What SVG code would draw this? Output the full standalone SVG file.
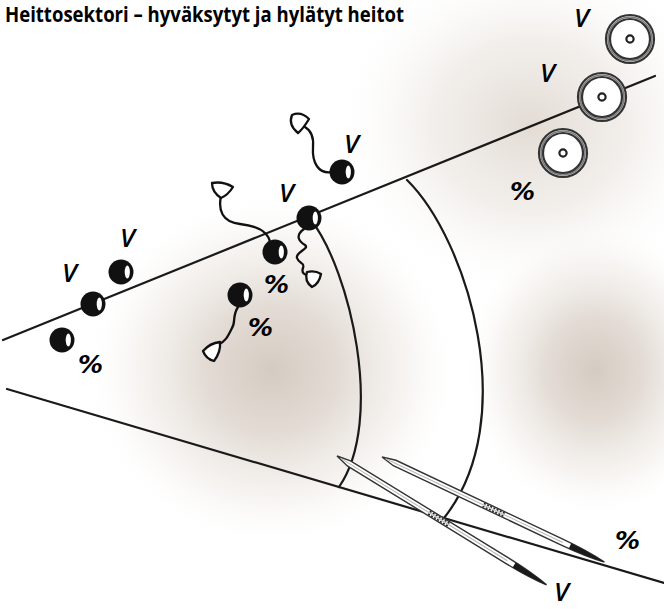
<svg xmlns="http://www.w3.org/2000/svg" width="664" height="609" viewBox="0 0 664 609">
  <defs>
    <radialGradient id="haze" cx="0.5" cy="0.5" r="0.5">
      <stop offset="0" stop-color="#d0c5ba" stop-opacity="0.9"/>
      <stop offset="0.35" stop-color="#d9cfc6" stop-opacity="0.75"/>
      <stop offset="0.7" stop-color="#ebe5df" stop-opacity="0.45"/>
      <stop offset="1" stop-color="#ffffff" stop-opacity="0"/>
    </radialGradient>
    <radialGradient id="hazeLight" cx="0.5" cy="0.5" r="0.5">
      <stop offset="0" stop-color="#dcd3ca" stop-opacity="0.8"/>
      <stop offset="0.5" stop-color="#e8e2dc" stop-opacity="0.55"/>
      <stop offset="1" stop-color="#ffffff" stop-opacity="0"/>
    </radialGradient>
    <!-- shot ball with highlight -->
    <g id="ball">
      <circle r="12.5" fill="#111"/>
      <ellipse cx="6.3" cy="0" rx="2.6" ry="6.5" fill="#fff"/>
    </g>
    <!-- discus seen from above -->
    <g id="discus">
      <circle r="24" fill="#fff" stroke="#333" stroke-width="2.2"/>
      <circle r="22" fill="none" stroke="#7a7a7a" stroke-width="1.6"/>
      <circle r="20" fill="none" stroke="#333" stroke-width="2.2"/>
      <circle r="3.6" fill="#fff" stroke="#222" stroke-width="2.2"/>
    </g>
    <!-- javelin drawn along +x -->
    <g id="javelin-body">
      <path d="M0,0 L14,-3 L198,-3 C218,-3 236,-1.6 246,0 C236,1.6 218,3 198,3 L14,3 Z" fill="#fff" stroke="#333" stroke-width="1.4"/>
      <path d="M4,0 L200,0" stroke="#b5b5b5" stroke-width="1"/>
      <path d="M208,-2.9 C224,-2.6 238,-1.3 246,0 C238,1.3 224,2.6 208,2.9 Z" fill="#1a1a1a"/>
    </g>
  </defs>
  <style>
    .line { fill: none; stroke: #1a1a1a; stroke-width: 2.2; stroke-linecap: round; }
    .wire { fill: none; stroke: #111; stroke-width: 2.3; stroke-linecap: round; }
    .grip { fill: #fff; stroke: #111; stroke-width: 2.3; stroke-linejoin: round; }
    .ok { font-family: "Open Sans", "Liberation Sans", sans-serif; font-style: italic; font-weight: 600; font-size: 26px; fill: #000; }
    .no { font-family: "DejaVu Sans", "Liberation Sans", sans-serif; font-style: oblique; font-weight: bold; font-size: 25px; fill: #000; }
    .title { font-family: "Open Sans", "Liberation Sans", sans-serif; font-weight: 700; font-size: 21px; fill: #000; }
  </style>

  <rect width="664" height="609" fill="#fff"/>

  <!-- ground shading -->
  <g id="shading">
    <ellipse cx="530" cy="125" rx="200" ry="175" fill="url(#hazeLight)"/>
    <ellipse cx="272" cy="370" rx="190" ry="180" fill="url(#haze)"/>
    <ellipse cx="595" cy="370" rx="135" ry="150" fill="url(#haze)"/>
  </g>

  <!-- sector lines and arcs -->
  <g id="connectors">
    <line class="line" x1="3" y1="340" x2="655" y2="76"/>
    <line class="line" x1="7" y1="389" x2="664" y2="583"/>
    <path class="line" d="M311,220 C350,270 385,420 339,487"/>
    <path class="line" d="M407,180 C468,240 522,420 444,518"/>
  </g>

  <!-- javelins -->
  <g id="javelin-ok" transform="translate(337,456) rotate(31.6)">
    <use href="#javelin-body"/>
    <path d="M108,-1.6 H132 M108,1.6 H132" stroke="#222" stroke-width="1.5" stroke-dasharray="2 1.5"/>
  </g>
  <g id="javelin-no" transform="translate(382,457) rotate(25.3)">
    <use href="#javelin-body"/>
    <path d="M112,-1.6 H136 M112,1.6 H136" stroke="#222" stroke-width="1.5" stroke-dasharray="2 1.5"/>
  </g>

  <!-- discus throws -->
  <g id="discus-1"><use href="#discus" x="630" y="39"/></g>
  <g id="discus-2"><use href="#discus" x="602" y="97"/></g>
  <g id="discus-3"><use href="#discus" x="563" y="153"/></g>

  <!-- hammer throws -->
  <g id="hammer-1">
    <path class="wire" d="M333,172 C318,175 312,162 313,147 C314,136 310,130 305,127"/>
    <path class="grip" d="M292,115 Q301,111 309,119 Q303,129 298,133 Q288,125 292,115 Z"/>
    <use href="#ball" x="342" y="172"/>
  </g>
  <g id="hammer-2">
    <path class="wire" d="M221,196 C218,210 222,222 240,224 C258,226 268,232 270,242"/>
    <path class="grip" d="M212,183 Q223,181 233,187 Q228,195 221,198 Q212,192 212,183 Z"/>
    <use href="#ball" x="275" y="252"/>
  </g>
  <g id="hammer-3">
    <path class="wire" d="M304,229 C294,236 300,242 305,245 C310,249 295,252 297,258 C299,264 305,262 303,268 C301,273 305,275 309,276"/>
    <path class="grip" d="M307,272 Q315,270 321,274 Q319,284 312,287 Q304,281 307,272 Z"/>
    <use href="#ball" x="309" y="218"/>
  </g>
  <g id="hammer-4">
    <path class="wire" d="M238,307 C232,316 236,322 232,328 C228,336 226,341 218,345"/>
    <path class="grip" d="M220,342 Q210,343 203,351 Q206,359 214,361 Q221,352 220,342 Z"/>
    <use href="#ball" x="240" y="295"/>
  </g>

  <!-- shot put throws -->
  <g id="shot-1"><use href="#ball" x="93" y="304"/></g>
  <g id="shot-2"><use href="#ball" x="121" y="272"/></g>
  <g id="shot-3"><use href="#ball" x="62" y="340"/></g>

  <!-- labels: valid -->
  <g id="labels-valid">
    <text class="ok" x="574" y="27">V</text>
    <text class="ok" x="540" y="82">V</text>
    <text class="ok" x="344" y="153">V</text>
    <text class="ok" x="279" y="202">V</text>
    <text class="ok" x="120" y="247">V</text>
    <text class="ok" x="62" y="282">V</text>
    <text class="ok" x="554" y="601" font-size="25">V</text>
  </g>

  <!-- labels: rejected -->
  <g id="labels-rejected">
    <text class="no" x="510" y="200">%</text>
    <text class="no" x="264" y="293">%</text>
    <text class="no" x="248" y="336">%</text>
    <text class="no" x="78" y="373">%</text>
    <text class="no" x="615" y="549">%</text>
  </g>

  <text class="title" x="5" y="22" textLength="399" lengthAdjust="spacingAndGlyphs">Heittosektori – hyväksytyt ja hylätyt heitot</text>
</svg>
